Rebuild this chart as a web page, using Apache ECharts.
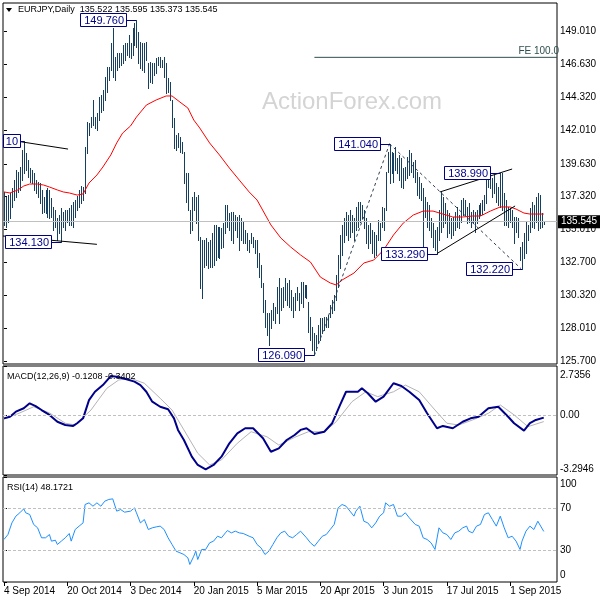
<!DOCTYPE html>
<html><head><meta charset="utf-8">
<script src="https://cdn.jsdelivr.net/npm/echarts@6/dist/echarts.min.js"></script>
<style>html,body{margin:0;padding:0;background:#fff}#c{width:600px;height:600px}</style>
</head><body><div id="c"></div>
<script>
// ---------- data ----------
const symbolName = 'EURJPY,Daily';
const lastBar = [135.522, 135.595, 135.373, 135.545]; // O H L C
const highs = [137.64,137.28,137.43,137.57,137.92,138.48,139.19,139.05,139.40,140.60,
141.21,140.39,139.90,139.33,139.19,138.98,138.48,138.34,138.27,137.78,
137.28,137.78,137.92,137.78,137.21,136.58,136.36,135.80,136.01,136.51,
136.22,136.36,136.36,136.51,136.72,136.93,137.07,137.35,137.78,138.06,
137.99,140.82,142.58,142.51,142.94,144.14,142.94,143.22,144.35,144.49,
144.84,145.76,146.47,146.47,148.16,149.22,147.17,147.46,147.46,147.46,
148.02,148.16,148.16,148.73,148.16,149.22,149.58,149.76,148.94,148.23,
148.16,148.16,148.23,146.75,146.82,146.75,146.75,147.10,147.17,147.17,
146.96,147.17,146.75,145.69,145.41,144.14,142.86,141.66,141.80,141.52,
141.17,140.46,138.98,138.98,136.36,137.28,137.64,137.28,137.43,134.46,
134.25,134.25,134.39,134.11,134.25,134.74,135.31,135.31,135.16,135.16,
135.09,135.45,136.72,136.72,136.15,136.22,136.22,136.01,135.87,136.01,
135.80,135.52,134.95,134.74,134.25,134.74,134.46,134.25,134.25,133.33,
132.48,131.21,130.01,129.09,129.09,129.30,129.80,129.51,130.93,131.56,
130.86,130.93,131.56,131.21,131.42,130.71,130.22,130.50,130.93,130.50,
131.28,131.28,131.07,131.07,129.87,128.81,128.10,127.68,127.54,128.24,
128.74,128.74,128.81,128.81,128.95,129.65,130.01,130.36,131.77,133.19,
134.60,135.31,135.80,136.22,136.01,136.36,136.01,135.80,136.58,136.93,
136.93,136.72,136.36,135.80,135.31,135.45,134.95,134.81,134.60,135.66,
135.45,136.58,136.51,139.05,140.46,141.04,140.46,140.39,140.82,140.04,
140.25,140.04,139.33,139.40,140.11,140.60,140.39,139.76,139.90,139.05,
138.70,138.27,137.92,137.28,136.93,136.72,135.80,135.45,134.95,135.16,
136.36,137.64,137.28,136.86,136.36,136.15,135.80,135.87,136.22,136.58,
136.01,137.07,137.21,137.07,136.58,136.86,136.22,136.36,136.22,136.36,
136.72,136.86,137.07,137.43,138.70,138.98,138.84,138.63,138.84,138.27,
137.99,138.99,138.98,137.57,137.07,136.58,136.51,136.36,135.87,135.87,
135.80,133.75,134.11,134.74,135.52,135.31,136.51,136.93,136.72,137.28,
137.57,137.43,136.15,135.595];
const lows = [135.31,135.16,135.52,135.80,136.58,137.07,137.28,137.64,137.78,138.48,
138.98,139.19,138.70,138.34,138.27,137.78,137.57,137.28,136.86,136.15,
136.22,136.15,135.87,135.80,135.87,134.95,135.16,134.25,134.74,134.13,
135.16,134.95,135.52,135.31,135.31,135.16,135.87,136.36,136.58,136.86,
137.07,137.57,140.39,141.66,142.23,142.37,142.16,142.02,142.72,143.29,
143.43,144.14,144.70,145.55,146.25,145.76,145.55,146.25,146.47,146.61,
146.75,146.96,147.31,147.17,147.10,147.31,148.02,147.88,146.75,146.40,
146.25,146.11,146.96,144.98,145.41,145.34,145.90,146.04,146.61,146.47,
146.47,145.76,144.63,144.70,144.14,142.23,140.75,140.60,140.82,140.46,
140.39,138.27,136.93,136.36,134.74,134.95,136.36,135.45,134.25,130.86,
130.15,132.34,132.48,132.27,132.34,132.34,132.48,132.83,133.05,132.97,
133.68,133.75,134.74,135.16,134.95,134.25,134.03,134.95,134.46,133.54,
134.25,134.03,134.03,133.54,133.40,134.03,133.75,133.33,132.34,131.63,
130.93,129.16,128.10,127.54,126.83,128.03,128.59,128.38,129.09,128.38,
129.30,129.51,130.01,129.65,129.51,129.30,128.81,129.30,130.01,129.30,
129.80,129.51,130.22,130.15,127.75,127.18,126.48,126.09,126.48,126.97,
127.18,127.68,127.89,128.10,128.10,128.81,129.09,129.30,130.01,130.93,
132.27,133.19,134.11,134.60,134.25,134.46,134.81,134.25,134.95,135.16,
135.52,135.80,135.09,134.03,133.68,134.03,133.33,133.05,133.19,134.25,
134.25,135.16,134.95,136.36,139.05,138.27,138.98,138.34,139.19,138.98,
138.48,137.99,137.92,138.48,138.63,138.84,139.05,138.70,138.34,137.43,
137.21,137.07,133.54,135.87,135.16,134.95,134.46,133.75,133.54,133.29,
134.25,134.81,135.16,135.45,134.46,134.74,134.39,134.60,134.95,135.16,
135.09,135.52,136.01,136.01,135.45,135.52,135.16,135.45,134.81,135.45,
135.80,136.01,136.08,136.36,136.86,137.99,137.92,137.28,137.57,136.93,
136.72,136.58,136.36,135.31,135.31,135.16,135.52,135.16,134.03,134.81,
134.46,132.83,132.22,132.97,133.33,134.25,134.81,135.16,135.09,135.52,
134.95,135.09,135.16,135.373];

const maIdx = [0,3,7,10,13,17,20,23,27,30,33,37,40,43,47,50,54,57,60,64,67,72,77,82,85,89,93,96,99,104,109,114,119,124,128,135,140,145,150,155,160,165,168,171,177,182,187,192,197,202,207,212,217,222,227,232,237,241,246,251,256,259,263,266,273];
const maVal = [137.64,137.57,137.78,138.06,138.20,138.20,138.13,137.99,137.78,137.64,137.57,137.42,137.50,138.27,138.84,139.40,140.25,141.10,141.80,142.30,142.93,143.78,144.14,144.42,144.42,143.99,143.57,142.72,142.16,141.10,140.25,139.33,138.48,137.64,137.07,135.31,134.39,133.75,133.19,132.69,131.63,131.21,131.07,131.42,131.91,132.62,132.83,133.54,134.60,135.45,136.01,136.29,136.29,136.08,135.87,135.87,135.94,135.94,136.29,136.58,136.58,136.43,136.15,136.08,136.08];

const macdLast = [-0.1208, -0.3402];
const macdIdx = [0,3,6,10,13,16,19,23,27,31,35,37,40,43,46,50,54,57,62,66,69,72,75,79,83,86,88,91,95,98,102,106,110,114,118,122,126,131,135,139,143,147,150,153,157,162,166,170,173,179,181,184,188,192,197,201,205,210,214,219,222,227,232,236,240,245,250,255,258,263,266,269,273];
const macdVal = [-0.16,-0.07,0.21,0.40,0.67,0.52,0.30,0.03,-0.35,-0.53,-0.58,-0.43,-0.16,0.85,1.31,1.68,2.18,2.14,2.00,1.87,1.68,1.31,0.76,0.48,0.34,-0.16,-0.80,-1.36,-2.28,-2.74,-2.98,-2.74,-2.28,-1.54,-0.99,-0.71,-0.71,-1.26,-2.01,-1.82,-1.36,-1.08,-0.80,-0.71,-1.03,-0.90,-0.43,0.58,1.31,1.31,1.50,1.23,0.76,1.04,1.78,1.63,1.31,0.85,0.12,-0.71,-0.58,-0.71,-0.35,-0.16,-0.07,0.40,0.48,-0.07,-0.43,-0.84,-0.43,-0.25,-0.1208];
const sigIdx = [0,8,15,23,31,36,44,52,58,64,71,79,85,91,98,104,110,118,125,133,139,147,154,162,168,176,183,189,197,203,210,218,224,230,237,245,251,258,265,273];
const sigVal = [-0.20,0.14,0.48,0.14,-0.43,-0.53,0.30,1.50,1.96,2.06,1.78,0.95,0.30,-0.80,-2.09,-2.74,-2.46,-1.54,-0.90,-1.18,-1.64,-1.21,-0.90,-0.90,-0.35,0.76,1.31,1.04,1.31,1.68,1.31,0.30,-0.43,-0.53,-0.25,0.12,0.58,0.03,-0.62,-0.3402];

const rsiLast = 48.1721;
const rsiIdx = [0,2,4,6,8,10,11,13,15,17,19,21,23,24,26,27,29,31,33,34,36,38,40,41,43,45,47,49,51,53,55,57,59,61,64,66,67,69,71,73,75,77,79,81,83,85,87,89,91,93,94,96,97,98,100,102,104,106,108,110,112,113,115,117,119,121,124,126,128,130,132,134,136,138,140,142,144,146,148,150,151,153,155,157,159,161,163,165,167,169,171,173,175,177,178,180,182,184,186,188,190,192,193,195,197,199,201,203,205,206,208,210,212,214,216,218,220,222,224,226,228,230,232,234,235,237,239,241,243,245,247,249,251,253,255,257,259,261,262,264,266,268,270,273];
const rsiVal = [40.5,45.2,56.3,62.7,65.9,69.7,65.9,64.3,54.8,51.6,42.1,42.1,45.2,38.9,39.8,35.7,38.9,42.1,46.2,38.9,50,53.2,56.3,73.8,75.4,72.2,75.4,72.2,77,78.6,79.2,67.5,69,66.5,67.5,70.6,65.9,56.3,59.5,50,51.6,52.5,53.2,50,42.1,35.7,29.4,27.8,26.2,23,16.7,24.6,29.4,21.4,31,31,37.3,38.9,43.6,42.1,46.8,49,46.8,48.4,46.8,46.2,43.6,42.1,35.7,32.5,26.2,29.4,35.7,42.1,46.8,48.4,43.6,42.1,45.2,48.4,46.8,42.1,37.3,34.1,38.9,43.6,45.2,50,54.8,70.6,73.8,72.2,67.5,62.7,67.5,72.2,57.9,56.3,51.6,56.3,62.7,65.9,75.4,72.2,73.8,62.7,62.7,65.9,61.1,62.7,54.8,53.2,42.1,40.5,37.3,31,51.6,46.8,45.2,40.5,46.8,48.4,51.6,53.2,48.4,46.8,53.2,54.8,64.3,65.9,59.5,53.2,62.7,51.6,42.1,43.6,38.9,31,38.9,48.4,53.2,50,57.9,48.1721];

const priceTicks = [125.700,128.010,130.320,132.700,135.010,137.320,139.630,142.010,144.320,146.630,149.010];
const macdTicks = [2.7356, 0, -3.2946];
const macdTickLabels = ['2.7356', '0.00', '-3.2946'];
const rsiTicks = [100, 70, 30, 0];
const dateIdx = [0,32,64,96,128,160,192,224,256];
const dateLabels = ['4 Sep 2014','20 Oct 2014','3 Dec 2014','20 Jan 2015','5 Mar 2015','20 Apr 2015','3 Jun 2015','17 Jul 2015','1 Sep 2015'];

// price annotations (labels of swing points)
const annoText = ['10','134.130','149.760','126.090','141.040','133.290','138.990','132.220'];
const annoIdx = [10,29,67,157,195,219,251,262];
const annoPrice = [141.21,134.13,149.76,126.09,141.04,133.29,138.99,132.22];

// trend lines [idx1, price1, idx2, price2]
const solidLines = [[-0.5,141.38,32.4,140.67],[-0.5,134.53,47,133.94],[220.5,137.64,257,139.26],[219,133.29,258.5,136.65]];
const dashedLines = [[157,126.09,195,141.04],[195,141.04,261.5,132.22]];
const feLevel = {text:'FE 100.0', idx:157, price:147.15};

// ---------- layout / style ----------
const FONT = '"Liberation Sans", Arial, sans-serif';
const LABEL_FONT = '11px ' + FONT;
const BAR = '#173f5f';
const PMIN = 125.487, PMAX = 150.988;
const XMIN = -0.5, XMAX = 279.7;
const grids = [
  {left:3, top:3, width:554, height:361},
  {left:3, top:366, width:554, height:109},
  {left:3, top:477, width:554, height:105}
].map(g => Object.assign({show:true, borderColor:'#000', borderWidth:1, backgroundColor:'#fff'}, g));

const measureCtx = document.createElement('canvas').getContext('2d');
function textW(t){ measureCtx.font = LABEL_FONT; return measureCtx.measureText(t).width; }

function xa(g, show){
  return {type:'value', gridIndex:g, min:XMIN, max:XMAX,
    axisLine:{show:false}, splitLine:{show:false},
    axisTick: show ? {show:true, length:4, customValues:dateIdx, lineStyle:{color:'#000'}} : {show:false},
    axisLabel: show ? {show:true, customValues:dateIdx, align:'left', margin:4, color:'#000', fontSize:10, fontFamily:FONT,
      formatter: v => dateLabels[dateIdx.indexOf(Math.round(v))] || ''} : {show:false}};
}
function ya(g, min, max, ticks, fmt, rich){
  return {type:'value', gridIndex:g, position:'right', min, max,
    axisLine:{show:false}, splitLine:{show:false},
    axisTick:{show:true, length:3, customValues:ticks, lineStyle:{color:'#000'}},
    axisLabel:{show:true, customValues:ticks, margin:3, color:'#000', fontSize:10, fontFamily:FONT, formatter:fmt, rich: rich||{}}};
}
const near = (a,b) => Math.abs(a-b) < 1e-6;

const bars = highs.map((h,i) => [i, lows[i], h]);
const pairs = (ix, vals) => ix.map((x,k) => [x, vals[k]]);

const series = [];
// helper: current price line + FE line
series.push({type:'line', xAxisIndex:0, yAxisIndex:0, z:1, symbol:'none', silent:true,
  data:[[feLevel.idx, feLevel.price],[XMAX, feLevel.price]],
  lineStyle:{color:'#2f4f4f', width:1},
  endLabel:{show:true, formatter:feLevel.text, align:'right', verticalAlign:'bottom', offset:[-6,-1], color:'#2f4f4f', fontSize:10, fontFamily:FONT},
  markLine:{symbol:'none', silent:true, animation:false,
    data:[{yAxis:lastBar[3], lineStyle:{color:'#c0c0c0', type:'solid', width:1},
      label:{show:true, position:'end', distance:1, formatter:lastBar[3].toFixed(3), backgroundColor:'#000', color:'#fff',
        padding:[2,3,1,3], fontSize:10, fontFamily:FONT}}]}
});
// price bars
series.push({type:'custom', xAxisIndex:0, yAxisIndex:0, z:3, clip:true, data:bars, encode:{x:0, y:[1,2]},
  renderItem:(params, api) => {
    const i = api.value(0);
    const t = api.coord([i, api.value(2)]), b = api.coord([i, api.value(1)]);
    const x = Math.round(t[0]) + 0.5;
    return {type:'line', shape:{x1:x, y1:Math.round(t[1]), x2:x, y2:Math.round(b[1])+1}, style:{stroke:BAR, lineWidth:1}};
  }});
// moving average
series.push({type:'line', xAxisIndex:0, yAxisIndex:0, z:4, symbol:'none', data:pairs(maIdx, maVal), lineStyle:{color:'#ff0000', width:1}});
// trend lines
solidLines.forEach(l => series.push({type:'line', xAxisIndex:0, yAxisIndex:0, z:5, symbol:'none', silent:true,
  data:[[l[0],l[1]],[l[2],l[3]]], lineStyle:{color:'#000', width:1}}));
dashedLines.forEach(l => series.push({type:'line', xAxisIndex:0, yAxisIndex:0, z:5, symbol:'none', silent:true,
  data:[[l[0],l[1]],[l[2],l[3]]], lineStyle:{color:'#2f3f4f', width:1, type:[3,3]}}));
// annotation labels
series.push({type:'custom', xAxisIndex:0, yAxisIndex:0, z:6, clip:true, data:pairs(annoIdx, annoPrice),
  renderItem:(params, api) => {
    const p = api.coord([api.value(0), api.value(1)]);
    const txt = annoText[params.dataIndex];
    const x = Math.round(p[0]), yc = Math.round(p[1]);
    const w = Math.ceil(textW(txt)) + 6;
    let right = x - 10, left = right - w;
    const gl = params.coordSys.x;
    if (left < gl) { left = gl; right = left + w - 2; }
    return {type:'group', children:[
      {type:'line', shape:{x1:right, y1:yc+0.5, x2:x, y2:yc+0.5}, style:{stroke:'#000080', lineWidth:1}},
      {type:'rect', shape:{x:left+0.5, y:yc-6.5, width:right-left, height:13}, style:{fill:'#fff', stroke:'#000080', lineWidth:1}},
      {type:'text', x:right-2, y:yc+1, style:{text:txt, align:'right', verticalAlign:'middle', fill:'#00008b', font:LABEL_FONT}}
    ]};
  }});
// MACD
series.push({type:'line', xAxisIndex:1, yAxisIndex:1, z:3, symbol:'none', data:pairs(sigIdx, sigVal), lineStyle:{color:'#b4b4b4', width:1},
  markLine:{symbol:'none', silent:true, animation:false, label:{show:false}, lineStyle:{color:'#c0c0c0', type:[3,2], width:1}, data:[{yAxis:0}]}});
series.push({type:'line', xAxisIndex:1, yAxisIndex:1, z:4, symbol:'none', data:pairs(macdIdx, macdVal), lineStyle:{color:'#00008b', width:2}});
// RSI
series.push({type:'line', xAxisIndex:2, yAxisIndex:2, z:3, symbol:'none', data:pairs(rsiIdx, rsiVal), lineStyle:{color:'#1e90ff', width:1},
  markLine:{symbol:'none', silent:true, animation:false, label:{show:false}, lineStyle:{color:'#c0c0c0', type:[3,2], width:1}, data:[{yAxis:70},{yAxis:30}]}});

const option = {
  animation:false,
  grid: grids,
  xAxis: [xa(0,false), xa(1,false), xa(2,true)],
  yAxis: [
    ya(0, PMIN, PMAX, priceTicks, v => v.toFixed(3)),
    ya(1, macdTicks[2], macdTicks[0], macdTicks, v => {
      const k = macdTicks.findIndex(t => near(t, v));
      if (k === 0) return '{t|' + macdTickLabels[k] + '}';
      if (k === 2) return '{b|' + macdTickLabels[k] + '}';
      return k >= 0 ? macdTickLabels[k] : '';
    }, {t:{padding:[18,0,0,0], fontSize:10, fontFamily:FONT, color:'#000'}, b:{padding:[0,0,12,0], fontSize:10, fontFamily:FONT, color:'#000'}}),
    ya(2, 0, 100, rsiTicks, v => {
      if (near(v,100)) return '{t|100}';
      if (near(v,0)) return '{b|0}';
      return String(v);
    }, {t:{padding:[14,0,0,0], fontSize:10, fontFamily:FONT, color:'#000'}, b:{padding:[0,0,13,0], fontSize:10, fontFamily:FONT, color:'#000'}})
  ],
  graphic: [
    {type:'text', left:262, top:90, z:0, silent:true, style:{text:'ActionForex.com', font:'24px ' + FONT, fill:'#d4d4d4'}},
    {type:'polygon', shape:{points:[[6,8],[12,8],[9,12]]}, style:{fill:'#000'}, z:10},
    {type:'text', x:18, y:10, z:10, style:{text:symbolName + '  ' + lastBar.map(v => v.toFixed(3)).join(' '), font:'9px ' + FONT, fill:'#000', verticalAlign:'middle'}},
    {type:'text', x:7, y:377, z:10, style:{text:'MACD(12,26,9) ' + macdLast[0].toFixed(4) + ' ' + macdLast[1].toFixed(4), font:'9px ' + FONT, fill:'#000', verticalAlign:'middle'}},
    {type:'text', x:7, y:488, z:10, style:{text:'RSI(14) ' + rsiLast.toFixed(4), font:'9px ' + FONT, fill:'#000', verticalAlign:'middle'}}
  ],
  series
};
const chart = echarts.init(document.getElementById('c'), null, {renderer:'canvas'});
chart.setOption(option);
</script></body></html>
